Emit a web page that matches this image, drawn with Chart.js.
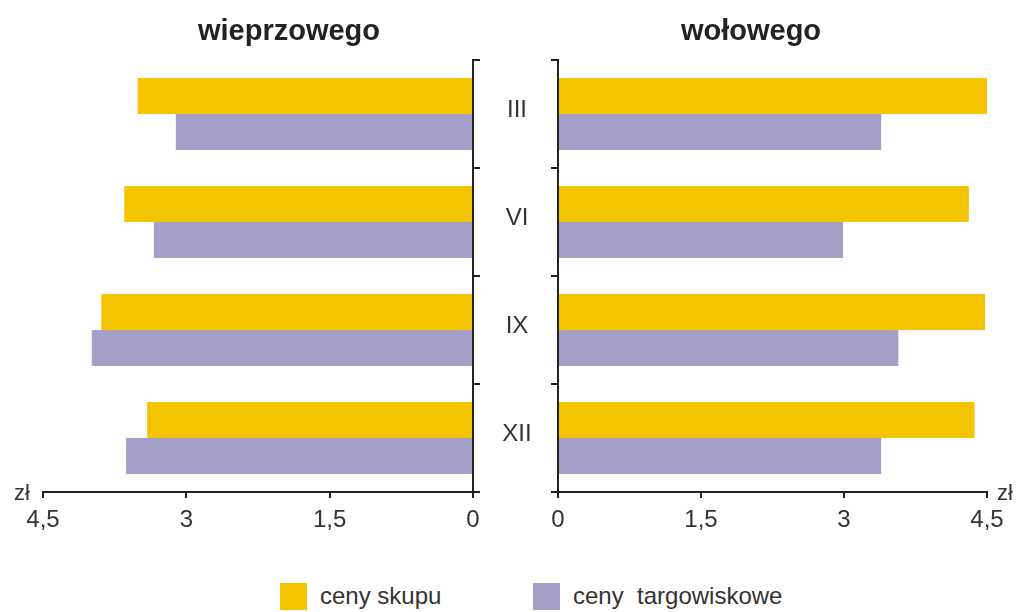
<!DOCTYPE html>
<html>
<head>
<meta charset="utf-8">
<script src="https://cdn.jsdelivr.net/npm/chart.js@4.4.1/dist/chart.umd.min.js"></script>
<style>
  html, body { margin: 0; padding: 0; background: #fff; }
  #wrap { position: relative; width: 1022px; height: 612px; overflow: hidden; font-family: "Liberation Sans", Arial, sans-serif; }
  #porkBox { position: absolute; left: 0; top: 0; width: 561px; height: 540px; }
  #beefBox { position: absolute; left: 520px; top: 0; width: 502px; height: 540px; }
  .legend { position: absolute; top: 582px; display: flex; align-items: center; font-size: 24px; color: #333; }
  .legend i { display: inline-block; width: 27px; height: 27px; margin-right: 13px; }
</style>
</head>
<body>
<div id="wrap">
  <div id="porkBox"><canvas id="porkChart" width="561" height="540"></canvas></div>
  <div id="beefBox"><canvas id="beefChart" width="502" height="540"></canvas></div>
  <div class="legend" style="left:280px"><i style="background:#F5C400"></i>ceny skupu</div>
  <div class="legend" style="left:533px"><i style="background:#A49FC6"></i>ceny&nbsp; targowiskowe</div>
</div>
<script>
const months = ['III', 'VI', 'IX', 'XII'];
const seriesNames = ['ceny skupu', 'ceny targowiskowe'];
const porkSkup = [3.51, 3.65, 3.89, 3.41];
const porkTarg = [3.11, 3.34, 3.99, 3.63];
const beefSkup = [4.50, 4.31, 4.48, 4.37];
const beefTarg = [3.39, 2.99, 3.57, 3.39];
const xTicks = [0, 1.5, 3, 4.5];

const YELLOW = '#F5C400';
const LILAC = '#A49FC6';
const INK = '#222';
const FONT = '"Liberation Sans", Arial, sans-serif';

// titles, the "zł" unit and the month labels between the panels
const panelText = {
  id: 'panelText',
  afterDraw(chart, args, opts) {
    const ctx = chart.ctx;
    const area = chart.chartArea;
    ctx.save();
    ctx.fillStyle = INK;
    ctx.textAlign = 'center';
    ctx.textBaseline = 'alphabetic';
    ctx.font = 'bold 29px ' + FONT;
    ctx.fillText(opts.title, opts.titleX, 40);

    ctx.fillStyle = '#333';
    ctx.font = '22px ' + FONT;
    ctx.textBaseline = 'middle';
    ctx.fillText('zł', opts.unitX, area.bottom + 2);

    if (opts.showMonths) {
      const y = chart.scales.y;
      ctx.font = '24px ' + FONT;
      months.forEach((m, i) => {
        ctx.fillText(m, area.right + 44, y.getPixelForValue(i) - 4);
      });
    }
    ctx.restore();
  }
};

function makePanel(canvasId, skup, targ, opts) {
  const axisLine = { display: true, color: INK, width: 2 };
  new Chart(document.getElementById(canvasId), {
    type: 'bar',
    data: {
      labels: months,
      datasets: [
        { label: seriesNames[0], data: skup, backgroundColor: YELLOW },
        { label: seriesNames[1], data: targ, backgroundColor: LILAC }
      ]
    },
    options: {
      indexAxis: 'y',
      responsive: false,
      animation: false,
      devicePixelRatio: 1,
      categoryPercentage: 0.667,
      barPercentage: 1,
      layout: { padding: opts.padding },
      plugins: {
        legend: { display: false },
        tooltip: { enabled: false },
        panelText: opts.text
      },
      scales: {
        x: {
          min: 0,
          max: 4.5,
          reverse: opts.reverse,
          afterBuildTicks: s => { s.ticks = xTicks.map(v => ({ value: v })); },
          afterFit: s => { s.height = 48; },
          border: axisLine,
          grid: { drawOnChartArea: false, drawTicks: true, tickLength: 6, color: INK, lineWidth: 2 },
          ticks: {
            color: '#333',
            padding: 8,
            font: { family: FONT, size: 24 },
            callback: v => String(v).replace('.', ',')
          }
        },
        y: {
          position: opts.yPos,
          afterFit: s => { s.width = opts.yWidth; },
          border: axisLine,
          grid: { offset: true, drawOnChartArea: false, drawTicks: true, tickLength: 7, color: INK, lineWidth: 2 },
          ticks: { display: false }
        }
      }
    },
    plugins: [panelText]
  });
}

makePanel('porkChart', porkSkup, porkTarg, {
  reverse: true,
  yPos: 'right',
  yWidth: 88,
  padding: { left: 43, right: 0, top: 60, bottom: 0 },
  text: { title: 'wieprzowego', titleX: 289, unitX: 22, showMonths: true }
});

makePanel('beefChart', beefSkup, beefTarg, {
  reverse: false,
  yPos: 'left',
  yWidth: 38,
  padding: { left: 0, right: 35, top: 60, bottom: 0 },
  text: { title: 'wołowego', titleX: 231, unitX: 485, showMonths: false }
});
</script>
</body>
</html>
